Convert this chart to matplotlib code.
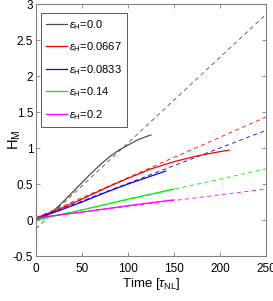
import matplotlib
matplotlib.use('Agg')
import matplotlib.pyplot as plt
import numpy as np

plt.rcParams['font.family'] = ['Liberation Sans', 'DejaVu Sans']
plt.rcParams['mathtext.fontset'] = 'custom'
plt.rcParams['mathtext.rm'] = 'Liberation Sans'
plt.rcParams['mathtext.it'] = 'Liberation Sans:italic'

labels = [r'$\epsilon_\mathrm{H}$=0.0', r'$\epsilon_\mathrm{H}$=0.0667', r'$\epsilon_\mathrm{H}$=0.0833',
          r'$\epsilon_\mathrm{H}$=0.14', r'$\epsilon_\mathrm{H}$=0.2']
colors = ['#505050', '#ff0000', '#0000ff', '#00ee00', '#ff00ff']

# simulation curves (time, H_M)
t_black = [0, 10, 20, 30, 40, 50, 60, 70, 80, 90, 100, 110, 120, 125]
h_black = [0.0, 0.05, 0.14, 0.26, 0.39, 0.52, 0.65, 0.77, 0.88, 0.97, 1.04, 1.11, 1.16, 1.18]
t_red = [0, 25, 50, 75, 100, 125, 150, 175, 200, 210]
h_red = [0.03, 0.15, 0.29, 0.44, 0.58, 0.71, 0.81, 0.89, 0.95, 0.97]
t_blue = [0, 25, 50, 75, 100, 125, 141]
h_blue = [0.02, 0.13, 0.25, 0.38, 0.50, 0.61, 0.68]
t_green = [0, 50, 100, 150]
h_green = [0.0, 0.14, 0.29, 0.43]
t_mag = [0, 50, 100, 150]
h_mag = [0.03, 0.11, 0.20, 0.28]

curves = [(t_black, h_black), (t_red, h_red), (t_blue, h_blue), (t_green, h_green), (t_mag, h_mag)]

# linear fits (intercept, slope) shown dashed
fit_intercept = [-0.12, 0.03, 0.02, 0.0, 0.03]
fit_slope = [0.0119, 0.0056, 0.0049, 0.00284, 0.0016]
t_fit = np.array([0, 250])

fig = plt.figure(figsize=(2.73, 3.01), dpi=100)
ax = fig.add_axes([0.132, 0.1495, 0.842, 0.837])

for (t, h), b0, b1, c in zip(curves, fit_intercept, fit_slope, colors):
    ax.plot(t_fit, b0 + b1 * t_fit, '--', color=c, lw=0.6, dashes=(5, 4))
for (t, h), c, lab in zip(curves, colors, labels):
    ax.plot(t, h, '-', color=c, lw=0.9, label=lab)

ax.set_xlim(0, 250)
ax.set_ylim(-0.5, 3)
ax.set_xticks([0, 50, 100, 150, 200, 250])
ax.set_yticks([-0.5, 0, 0.5, 1, 1.5, 2, 2.5, 3])
ax.set_yticklabels(['-0.5', '0', '0.5', '1', '1.5', '2', '2.5', '3'])
ax.tick_params(direction='in', top=True, right=True, labelsize=8.5, length=3,
               color='#808080', width=0.6)
ax.tick_params(axis='x', pad=5)
ax.tick_params(axis='y', pad=2)
for s in ax.spines.values():
    s.set_color('#808080')
    s.set_linewidth(0.8)

ax.set_xlabel(r'Time [$\tau_\mathrm{NL}$]', fontsize=9.5, labelpad=1)
fig.text(15 / 273, 1 - 140 / 301, r'H$_\mathrm{M}$', fontsize=10.5, rotation=90,
         ha='center', va='center')

leg = ax.legend(loc='upper left', fontsize=8, handlelength=1.9, handletextpad=0.2,
                labelspacing=0.78, borderpad=0.45, borderaxespad=0, fancybox=False, framealpha=1,
                edgecolor='#404040', bbox_to_anchor=(0.022, 0.965))
leg.get_frame().set_linewidth(0.6)

fig.savefig('out.png', dpi=100)
